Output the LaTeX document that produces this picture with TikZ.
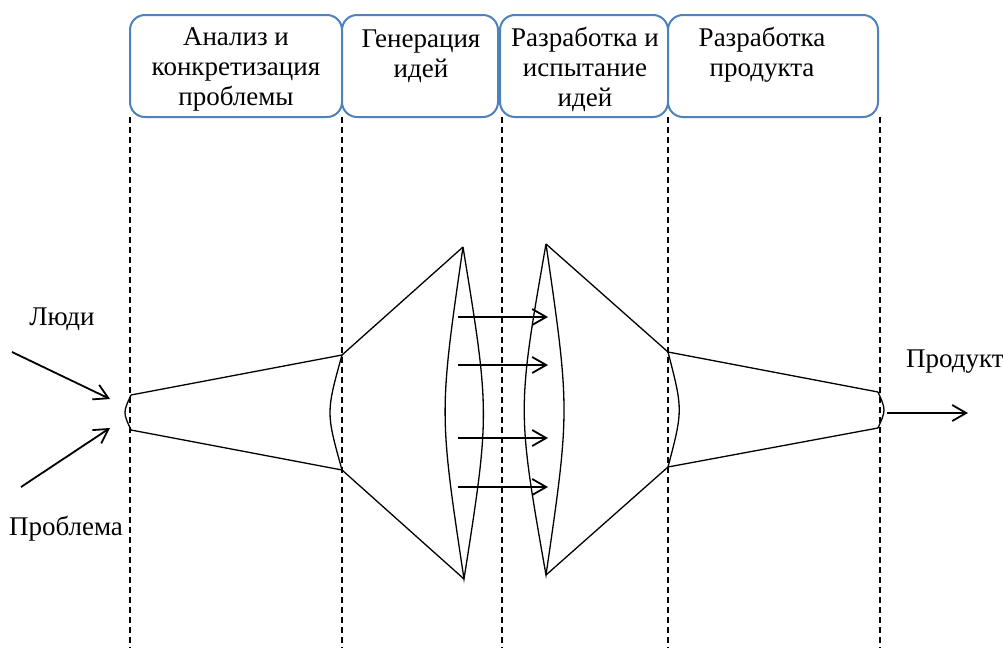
\documentclass[tikz,border=0pt]{standalone}
\usepackage{fontspec}
\setmainfont{Liberation Serif}
\usetikzlibrary{arrows.meta}
\definecolor{boxblue}{RGB}{79,129,189}

\begin{document}
\begin{tikzpicture}[x=0.5pt, y=-0.5pt,
  stage/.style={draw=boxblue, line width=1pt, rounded corners=7.5pt, fill=white},
  stagetext/.style={align=center, anchor=north, inner sep=0pt, font=\fontsize{13.5}{15}\selectfont},
  sidetext/.style={inner sep=0pt, anchor=base, font=\fontsize{13.5}{15}\selectfont},
  guide/.style={dash pattern=on 3pt off 2pt, line width=0.7pt},
  funnel/.style={line width=0.65pt},
  flow/.style={-{Straight Barb[length=7pt, width=8pt]}, line width=0.9pt}]
  \useasboundingbox (0,0) rectangle (1003,648);

  % stages
  \draw[stage] (130,15) rectangle (342,117);
  \draw[stage] (342,15) rectangle (498,117);
  \draw[stage] (500,15) rectangle (668,117);
  \draw[stage] (668,15) rectangle (878,117);
  \node[stagetext] (analiz) at (236,27) {Анализ и\\конкретизация\\проблемы};
  \node[stagetext] (gen) at (421,29) {Генерация\\идей};
  \node[stagetext] (isp) at (585,27) {Разработка и\\испытание\\идей};
  \node[stagetext] (prod) at (762,27) {Разработка\\продукта};

  \foreach \x in {130,342,502,668,880}
    \draw[guide] (\x,117) -- (\x,648);

  % funnel
  \draw[funnel] (131,395) .. controls (123,412.5) .. (131,430);
  \draw[funnel] (342,355) .. controls (326,412.5) .. (342,470);
  \draw[funnel] (131,395) -- (342,355) -- (463,247);
  \draw[funnel] (131,430) -- (342,470) -- (464,579);
  \draw[funnel] (463,247) .. controls (439,413) .. (464,579) .. controls (490,413) .. (463,247);
  \draw[funnel] (546,244) .. controls (517,410) .. (546,575) .. controls (570,410) .. (546,244);
  \draw[funnel] (546,244) -- (668,352) -- (878,392);
  \draw[funnel] (546,575) -- (668,467) -- (878,428);
  \draw[funnel] (668,352) .. controls (683,410) .. (668,467);
  \draw[funnel] (878,392) .. controls (886,410) .. (878,428);

  % inputs and output
  \node[sidetext] (ludi) at (62,325) {Люди};
  \node[sidetext] (problema) at (66,535) {Проблема};
  \node[sidetext] (produkt) at (955,367) {Продукт};
  \coordinate (ludi-s) at (12,352);
  \coordinate (problema-s) at (21,487);
  \coordinate (in-top) at (110,399);
  \coordinate (in-bot) at (110,428);
  \coordinate (out-s) at (887,413);
  \coordinate (out-e) at (968,413);
  \draw[flow] (ludi-s) -- (in-top);
  \draw[flow] (problema-s) -- (in-bot);
  \draw[flow] (out-s) -- (out-e);

  \foreach \y [count=\i] in {317,365,438,487} {
    \coordinate (idea\i) at (458,\y);
    \coordinate (test\i) at (548,\y);
    \draw[flow] (idea\i) -- (test\i);
  }
\end{tikzpicture}
\end{document}
